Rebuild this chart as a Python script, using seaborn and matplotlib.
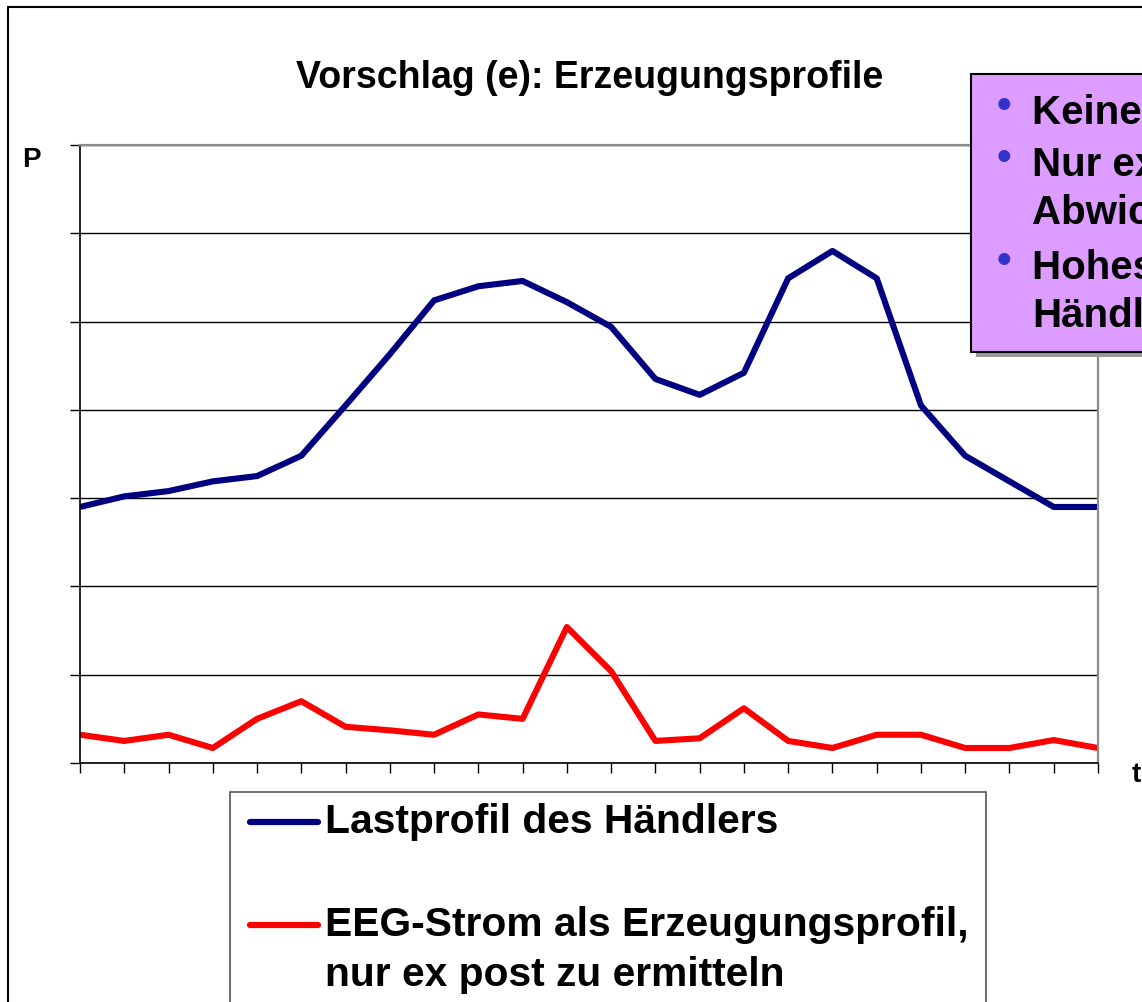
import pandas as pd
import matplotlib.pyplot as plt
import seaborn as sns
from matplotlib.patches import Rectangle
from matplotlib.lines import Line2D

# ===== Daten =====
stunden = list(range(24))
lastprofil = [2.90, 3.02, 3.08, 3.19, 3.25, 3.48, 4.05, 4.63, 5.24, 5.40, 5.46, 5.22,
              4.94, 4.35, 4.17, 4.42, 5.49, 5.80, 5.49, 4.05, 3.48, 3.19, 2.90, 2.90]
eeg_strom = [0.32, 0.25, 0.32, 0.17, 0.50, 0.70, 0.41, 0.37, 0.32, 0.55, 0.50, 1.54,
             1.04, 0.25, 0.28, 0.62, 0.25, 0.17, 0.32, 0.32, 0.17, 0.17, 0.26, 0.17]
serien = ["Lastprofil des Händlers", "EEG-Strom als Erzeugungsprofil,"]
farben = {serien[0]: "#000080", serien[1]: "#ff0000"}
box_zeilen = [("•", "Keine Vorab-Prognose"), ("•", "Nur ex post"), ("", "Abwicklung"),
              ("•", "Hohes Risiko des"), ("", "Händlers")]

df = pd.concat([
    pd.DataFrame({"t": stunden, "P": lastprofil, "serie": serien[0]}),
    pd.DataFrame({"t": stunden, "P": eeg_strom, "serie": serien[1]}),
])

W, H = 1142, 1002
def px(x, y):
    return (x / W, 1 - y / H)

sns.set_style("white")
plt.rcParams["font.family"] = ["Liberation Sans", "DejaVu Sans"]
plt.rcParams["font.weight"] = "bold"
plt.rcParams["text.color"] = "black"

fig = plt.figure(figsize=(W / 100, H / 100), dpi=100)
ax = fig.add_axes([80 / W, 1 - 763 / H, (1098 - 80) / W, (763 - 145) / H])

sns.lineplot(data=df, x="t", y="P", hue="serie", palette=farben, linewidth=4.4,
             ax=ax, legend=False)

ax.set_xlim(0, 23)
ax.set_ylim(0, 7)
ax.set_xticks(stunden)
ax.set_yticks(range(8))
ax.set_xticklabels([])
ax.set_yticklabels([])
ax.set_xlabel("")
ax.set_ylabel("")
ax.tick_params(axis="both", direction="out", length=7, width=1, color="black",
               left=True, bottom=True)
ax.yaxis.grid(True, color="black", linewidth=1)
ax.set_axisbelow(True)
for s in ["left", "bottom"]:
    ax.spines[s].set_color("black")
    ax.spines[s].set_linewidth(1.2)
for s in ["top", "right"]:
    ax.spines[s].set_color("#8c8c8c")
    ax.spines[s].set_linewidth(1.6)

# ===== Texte =====
fig.text(*px(590, 78), "Vorschlag (e): Erzeugungsprofile", ha="center", va="center",
         fontsize=27, fontweight="bold", color="black")
fig.text(*px(31, 160), "P", ha="center", va="center", fontsize=20, fontweight="bold",
         color="black")
fig.text(*px(1136, 775), "t", ha="center", va="center", fontsize=20, fontweight="bold",
         color="black")

# äußerer Rahmen
fig.add_artist(Rectangle(px(8, 1100), 1.2, (1100 - 7) / H, transform=fig.transFigure,
                         fill=False, edgecolor="black", linewidth=1.5))

# ===== violette Box =====
fig.add_artist(Rectangle(px(976, 357), 0.3, (357 - 79) / H, transform=fig.transFigure,
                         facecolor="#999999", edgecolor="none", zorder=5))
fig.add_artist(Rectangle(px(971, 352), 0.3, (352 - 74) / H, transform=fig.transFigure,
                         facecolor="#dd9cff", edgecolor="black", linewidth=1.5, zorder=6))
zeilen_y = [113, 165, 213, 268, 316]
for (bullet, txt), y in zip(box_zeilen, zeilen_y):
    if bullet:
        fig.text(*px(1004, y - 6), bullet, ha="center", va="center", fontsize=30,
                 color="#3333cc", zorder=7)
    fig.text(*px(1032, y), txt, ha="left", va="center", fontsize=29,
             fontweight="bold", color="black", zorder=7)

# ===== Legende =====
fig.add_artist(Rectangle(px(230, 1100), (986 - 230) / W, (1100 - 792) / H,
                         transform=fig.transFigure, fill=False, edgecolor="#555555",
                         linewidth=1.2))
for serie, y in zip(serien, [822, 925]):
    x0, y0 = px(250, y)
    x1, _ = px(318, y)
    fig.add_artist(Line2D([x0, x1], [y0, y0], transform=fig.transFigure,
                          color=farben[serie], linewidth=4.5))
    fig.text(*px(325, y), serie, ha="left", va="center", fontsize=29.3,
             fontweight="bold", color="black")
fig.text(*px(325, 975), "nur ex post zu ermitteln", ha="left", va="center",
         fontsize=29.3, fontweight="bold", color="black")

plt.savefig("out.png", dpi=100)
plt.close()
